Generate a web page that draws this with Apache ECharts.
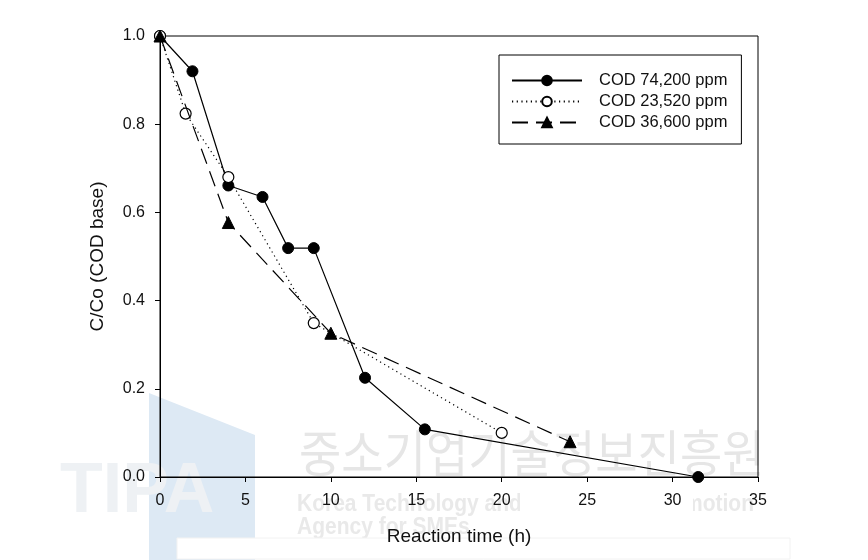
<!DOCTYPE html>
<html>
<head>
<meta charset="utf-8">
<script src="https://cdn.jsdelivr.net/npm/echarts@6/dist/echarts.min.js"></script>
<style>
html,body{margin:0;padding:0;background:#fff;}
#chart{width:868px;height:560px;}
</style>
</head>
<body>
<div id="chart"></div>
<script>
// ---- data ----
const seriesNames = ['COD 74,200 ppm', 'COD 23,520 ppm', 'COD 36,600 ppm'];
const s1X = [0, 1.9, 4, 6, 7.5, 9, 12, 15.5, 31.5];
const s1Y = [1.0, 0.92, 0.661, 0.635, 0.519, 0.519, 0.225, 0.108, 0.0];
const s2X = [0, 1.5, 4, 9, 20];
const s2Y = [1.0, 0.824, 0.68, 0.349, 0.1];
const s3X = [0, 4, 10, 24];
const s3Y = [1.0, 0.577, 0.326, 0.08];
const xTicks = [0, 5, 10, 15, 20, 25, 30, 35];
const yTicks = [0.0, 0.2, 0.4, 0.6, 0.8, 1.0];
const xTitle = 'Reaction time (h)';
const yTitle = 'C/Co (COD base)';

function pairs(xs, ys) { return xs.map((x, i) => [x, ys[i]]); }

const FONT = "'Liberation Sans', Arial, sans-serif";
const TXT = '#111';

const chart = echarts.init(document.getElementById('chart'), null, {renderer: 'canvas'});

const option = {
  backgroundColor: '#fff',
  animation: false,
  graphic: [
    { type: 'polygon', z: -10, silent: true,
      shape: { points: [[149, 393], [255, 435], [255, 560], [149, 560]] },
      style: { fill: '#dde9f4' } },
    { type: 'text', z: -9, silent: true, left: 60, top: 458,
      style: { text: 'TIPA', font: "bold 70px 'Liberation Sans', Arial", fill: '#eef1f4' } },
    { type: 'text', z: -9, silent: true, left: 299, top: 428, scaleY: 1.08,
      style: { text: '중소기업기술정보진흥원', font: "46px 'Noto Sans CJK KR'", fill: '#e6e6e6' } },
    { type: 'text', z: -9, silent: true, left: 297, top: 492, scaleY: 1.15,
      style: { text: 'Korea Technology and Information Promotion', font: "bold 21px 'Liberation Sans', Arial", fill: '#e9e9e9' } },
    { type: 'text', z: -9, silent: true, left: 297, top: 515, scaleY: 1.15,
      style: { text: 'Agency for SMEs', font: "bold 21px 'Liberation Sans', Arial", fill: '#e9e9e9' } },
    { type: 'rect', z: -8, silent: true,
      shape: { x: 520, y: 484, width: 173, height: 33 },
      style: { fill: '#fff' } },
    { type: 'rect', z: -8, silent: true,
      shape: { x: 177, y: 538, width: 613, height: 21 },
      style: { fill: '#fff', stroke: '#f2f2f2', lineWidth: 1 } }
  ],
  grid: {
    left: 160, top: 36, width: 598, height: 441,
    show: true, borderColor: '#000', borderWidth: 1, backgroundColor: 'transparent'
  },
  legend: {
    orient: 'vertical',
    left: 499, top: 55,
    backgroundColor: '#fff',
    borderColor: '#000', borderWidth: 1, borderRadius: 0,
    padding: [17, 14, 13, 12],
    itemWidth: 70, itemHeight: 12, itemGap: 4,
    textStyle: { fontFamily: FONT, fontSize: 16.5, color: TXT, padding: [0, 0, 0, 12] },
    data: seriesNames
  },
  xAxis: {
    type: 'value', min: 0, max: 35, interval: 5,
    name: xTitle, nameLocation: 'middle', nameGap: 50,
    nameTextStyle: { fontFamily: FONT, fontSize: 19, color: TXT },
    axisLine: { show: true, lineStyle: { color: '#000', width: 1 } },
    axisTick: { show: true, inside: false, length: 5, lineStyle: { color: '#000' } },
    axisLabel: { fontFamily: FONT, fontSize: 16, color: TXT, margin: 16,
      formatter: v => xTicks.includes(v) ? String(v) : '' },
    splitLine: { show: false }
  },
  yAxis: {
    type: 'value', min: 0, max: 1.0, interval: 0.2,
    name: yTitle, nameLocation: 'middle', nameGap: 53, nameRotate: 90,
    nameTextStyle: { fontFamily: FONT, fontSize: 19, color: TXT },
    axisLine: { show: true, lineStyle: { color: '#000', width: 1 } },
    axisTick: { show: true, inside: false, length: 5, lineStyle: { color: '#000' } },
    axisLabel: { fontFamily: FONT, fontSize: 16, color: TXT, margin: 15,
      formatter: v => { const t = yTicks.find(y => Math.abs(y - v) < 1e-9); return t === undefined ? '' : t.toFixed(1); } },
    splitLine: { show: false }
  },
  series: [
    {
      name: seriesNames[0], type: 'line', data: pairs(s1X, s1Y),
      symbol: 'circle', symbolSize: 11,
      lineStyle: { color: '#000', width: 1.2, type: 'solid' },
      itemStyle: { color: '#000', borderColor: '#000', borderWidth: 1 },
      z: 3
    },
    {
      name: seriesNames[1], type: 'line', data: pairs(s2X, s2Y),
      symbol: 'circle', symbolSize: 11,
      lineStyle: { color: '#000', width: 1.2, type: [1.2, 3.5] },
      itemStyle: { color: '#fff', borderColor: '#000', borderWidth: 1.2 },
      z: 4
    },
    {
      name: seriesNames[2], type: 'line', data: pairs(s3X, s3Y),
      symbol: 'triangle', symbolSize: 12,
      lineStyle: { color: '#000', width: 1.2, type: [16, 8] },
      itemStyle: { color: '#000', borderColor: '#000', borderWidth: 1 },
      z: 5
    }
  ]
};
chart.setOption(option);
</script>
</body>
</html>
